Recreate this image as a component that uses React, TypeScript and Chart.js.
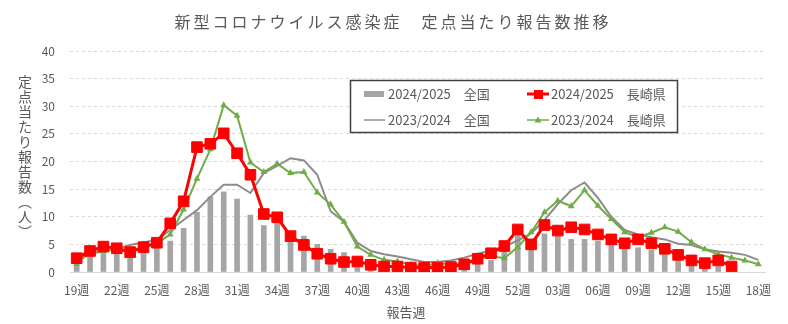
import React, { useEffect, useRef } from 'react';
import { Chart, registerables } from 'chart.js';

Chart.register(...registerables);

const weeks = [
  '19週', '20週', '21週', '22週', '23週', '24週', '25週', '26週', '27週', '28週',
  '29週', '30週', '31週', '32週', '33週', '34週', '35週', '36週', '37週', '38週',
  '39週', '40週', '41週', '42週', '43週', '44週', '45週', '46週', '47週', '48週',
  '49週', '50週', '51週', '52週', '01週', '02週', '03週', '04週', '05週', '06週',
  '07週', '08週', '09週', '10週', '11週', '12週', '13週', '14週', '15週', '16週',
  '17週', '18週',
];

const national2425 = [
  1.2, 2.8, 3.5, 3.8, 4.2, 4.6, 5.0, 5.6, 7.9, 10.8,
  13.6, 14.5, 13.2, 10.3, 8.4, 9.0, 7.3, 6.5, 5.0, 4.1,
  3.5, 2.8, 2.1, 1.6, 1.3, 1.1, 1.0, 1.1, 1.2, 1.5,
  2.3, 2.1, 3.8, 7.0, 4.6, 6.9, 8.3, 5.9, 5.9, 5.6,
  5.3, 4.6, 4.4, 4.0, 3.5, 2.4, 1.6, 1.0, 1.1, null,
  null, null,
];

const nagasaki2425 = [
  2.5, 3.8, 4.6, 4.3, 3.6, 4.5, 5.3, 8.8, 12.8, 22.6,
  23.2, 25.1, 21.5, 17.6, 10.5, 9.9, 6.5, 4.9, 3.3, 2.4,
  1.8, 1.9, 1.3, 1.0, 1.0, 0.8, 0.8, 0.8, 0.9, 1.4,
  2.4, 3.4, 4.7, 7.7, 5.0, 8.5, 7.5, 8.1, 7.7, 6.8,
  5.9, 5.2, 5.9, 5.2, 4.2, 3.1, 2.1, 1.6, 2.1, 1.0,
  null, null,
];

const national2324 = [
  2.2, 3.3, 3.7, 4.2, 4.9, 5.4, 5.8, 7.6, 9.4, 11.2,
  13.6, 15.8, 15.8, 14.3, 17.9, 19.2, 20.6, 20.2, 17.6, 11.0,
  9.1, 5.3, 3.8, 3.2, 2.8, 2.3, 1.8, 1.8, 2.1, 2.6,
  3.3, 3.9, 4.6, 5.7, 7.0, 9.4, 12.3, 14.8, 16.2, 13.4,
  10.0, 7.6, 6.8, 6.3, 5.9, 5.1, 4.9, 4.1, 3.7, 3.5,
  3.1, 2.2,
];

const nagasaki2324 = [
  1.5, 3.6, 3.8, 4.1, 4.0, 4.4, 5.2, 6.8, 11.3, 16.9,
  22.2, 30.2, 28.3, 19.8, 18.1, 19.6, 17.9, 18.1, 14.4, 12.2,
  9.1, 4.6, 3.1, 2.2, 1.9, 1.3, 1.1, 1.6, 1.4, 1.6,
  2.3, 2.9, 2.5, 4.5, 7.2, 10.8, 12.9, 11.9, 14.8, 12.0,
  9.6, 7.2, 6.3, 7.1, 8.1, 7.3, 5.4, 4.1, 3.2, 2.6,
  2.1, 1.4,
];

const seriesNames = [
  '2024/2025　全国',
  '2024/2025　長崎県',
  '2023/2024　全国',
  '2023/2024　長崎県',
];

const titleText = '新型コロナウイルス感染症　定点当たり報告数推移';
const yTitleChars = ['定', '点', '当', 'た', 'り', '報', '告', '数', '︵', '人', '︶'];
const xTitleText = '報告週';

const FONT = '"Noto Sans CJK JP", "Noto Sans", sans-serif';
const TEXT = '#595959';
const C_BAR = '#a5a5a5';
const C_RED = '#ff0000';
const C_GRAY = '#8c8c8c';
const C_GREEN = '#70ad47';

const decorPlugin = {
  id: 'decor',
  afterDraw(chart: any) {
    const ctx = chart.ctx as CanvasRenderingContext2D;
    ctx.save();
    ctx.fillStyle = TEXT;
    ctx.textBaseline = 'middle';

    // title
    ctx.font = `16px ${FONT}`;
    ctx.textAlign = 'center';
    try { (ctx as any).letterSpacing = '3px'; } catch (e) {}
    ctx.fillText(titleText, 393, 22);
    try { (ctx as any).letterSpacing = '0px'; } catch (e) {}

    // y title (vertical)
    ctx.font = `14px ${FONT}`;
    yTitleChars.forEach((ch, k) => {
      ctx.fillText(ch, 25, 82 + k * 15);
    });

    // x title
    ctx.font = `13px ${FONT}`;
    ctx.fillText(xTitleText, 406, 312);

    // legend
    ctx.fillStyle = '#ffffff';
    ctx.fillRect(350, 80, 328, 53);
    ctx.strokeStyle = '#404040';
    ctx.lineWidth = 1.5;
    ctx.strokeRect(350.5, 80.5, 327, 52);

    const r1 = 94;
    const r2 = 120;
    ctx.fillStyle = C_BAR;
    ctx.fillRect(364, r1 - 3, 20, 6);
    ctx.strokeStyle = C_GRAY;
    ctx.lineWidth = 1.5;
    ctx.beginPath();
    ctx.moveTo(364, r2);
    ctx.lineTo(385, r2);
    ctx.stroke();
    ctx.strokeStyle = C_RED;
    ctx.lineWidth = 3;
    ctx.beginPath();
    ctx.moveTo(527, r1);
    ctx.lineTo(549, r1);
    ctx.stroke();
    ctx.fillStyle = C_RED;
    ctx.fillRect(534, r1 - 4, 9, 9);
    ctx.strokeStyle = C_GREEN;
    ctx.lineWidth = 1.5;
    ctx.beginPath();
    ctx.moveTo(527, r2);
    ctx.lineTo(549, r2);
    ctx.stroke();
    ctx.fillStyle = C_GREEN;
    ctx.beginPath();
    ctx.moveTo(538, r2 - 3.5);
    ctx.lineTo(541.5, r2 + 2.5);
    ctx.lineTo(534.5, r2 + 2.5);
    ctx.closePath();
    ctx.fill();

    ctx.fillStyle = TEXT;
    ctx.font = `13px ${FONT}`;
    ctx.textAlign = 'left';
    ctx.fillText(seriesNames[0], 388, r1);
    ctx.fillText(seriesNames[2], 388, r2);
    ctx.fillText(seriesNames[1], 551, r1);
    ctx.fillText(seriesNames[3], 551, r2);

    ctx.restore();
  },
};

export default function App() {
  const ref = useRef<HTMLCanvasElement | null>(null);

  useEffect(() => {
    document.body.style.margin = '0';
    const canvas = ref.current;
    if (!canvas) return;
    const chart = new Chart(canvas, {
      type: 'bar',
      data: {
        labels: weeks,
        datasets: [
          {
            type: 'line',
            label: seriesNames[1],
            data: nagasaki2425,
            borderColor: C_RED,
            backgroundColor: C_RED,
            borderWidth: 3,
            pointStyle: 'rect',
            pointRadius: 7.5,
            pointBorderWidth: 1,
            pointBorderColor: C_RED,
            pointBackgroundColor: C_RED,
            tension: 0,
            order: 0,
          } as any,
          {
            type: 'line',
            label: seriesNames[3],
            data: nagasaki2324,
            borderColor: C_GREEN,
            backgroundColor: C_GREEN,
            borderWidth: 2,
            pointStyle: 'triangle',
            pointRadius: 4,
            pointBorderWidth: 0,
            pointBackgroundColor: C_GREEN,
            tension: 0,
            order: 1,
          } as any,
          {
            type: 'line',
            label: seriesNames[2],
            data: national2324,
            borderColor: C_GRAY,
            backgroundColor: C_GRAY,
            borderWidth: 2,
            pointRadius: 0,
            tension: 0,
            order: 2,
          } as any,
          {
            type: 'bar',
            label: seriesNames[0],
            data: national2425,
            backgroundColor: C_BAR,
            borderWidth: 0,
            barThickness: 5,
            order: 3,
          } as any,
        ],
      },
      options: {
        responsive: false,
        animation: false,
        events: [],
        layout: { padding: { top: 51, right: 23, left: 0, bottom: 0 } },
        plugins: {
          legend: { display: false },
          title: { display: false },
          tooltip: { enabled: false },
        },
        scales: {
          x: {
            type: 'category',
            offset: true,
            grid: { display: false, drawTicks: false },
            border: { display: true, color: '#d9d9d9', width: 1 },
            ticks: {
              autoSkip: false,
              maxRotation: 0,
              minRotation: 0,
              padding: 11,
              color: TEXT,
              font: { family: FONT, size: 12 },
              callback: (_v: any, i: number) => (i % 3 === 0 ? weeks[i] : ''),
            },
            afterFit: (s: any) => { s.height = 52; },
          },
          y: {
            min: 0,
            max: 40,
            ticks: {
              stepSize: 5,
              padding: 15,
              color: TEXT,
              font: { family: FONT, size: 12 },
            },
            grid: {
              drawTicks: false,
              color: (c: any) => (c.tick && c.tick.value === 0 ? 'rgba(0,0,0,0)' : '#d9d9d9'),
              lineWidth: 1,
            },
            border: { display: false, dash: [3, 3] },
            afterFit: (s: any) => { s.width = 70; },
          },
        },
      },
      plugins: [decorPlugin],
    });
    return () => chart.destroy();
  }, []);

  return (
    <div style={{ position: 'absolute', left: 0, top: 0, width: 788, height: 324, background: '#fff' }}>
      <canvas ref={ref} width={788} height={324} style={{ width: 788, height: 324, display: 'block' }} />
    </div>
  );
}
